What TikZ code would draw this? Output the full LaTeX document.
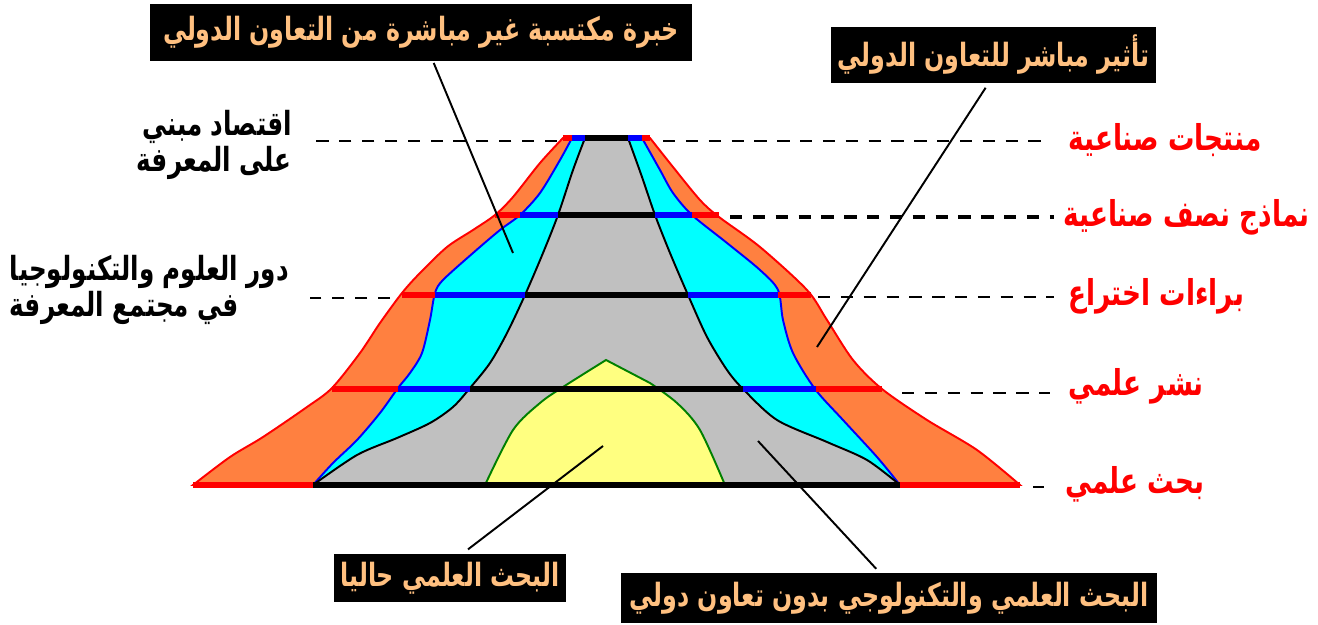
\documentclass[tikz,border=0pt]{standalone}
\usepackage{graphicx}
\usepackage{fontspec}
\newfontfamily\arabicfont[Script=Arabic]{DejaVu Sans}
\TeXXeTstate=1
\definecolor{peach}{RGB}{255,192,128}
\definecolor{orng}{RGB}{255,128,64}
\definecolor{aqua}{RGB}{0,255,255}
\definecolor{lgray}{RGB}{192,192,192}
\definecolor{lyellow}{RGB}{255,255,128}
\definecolor{dgreen}{RGB}{0,128,0}
\newcommand\tallar[1]{\scalebox{1}[1.35]{\beginR #1\endR}}

\begin{document}
\begin{tikzpicture}[x=0.02cm,y=-0.02cm,
  rim/.style={line width=1.1pt},
  lvl/.style={line width=3.4pt},
  leader/.style={line width=1.1pt},
  guide/.style={dash pattern=on 7pt off 6pt,line width=1.1pt},
  tag/.style={fill=black,text=peach,inner sep=0pt,font=\arabicfont\bfseries\fontsize{13.5}{16}\selectfont},
  stage/.style={text=red,anchor=west,inner sep=0pt,font=\arabicfont\bfseries\fontsize{15}{18}\selectfont},
  sidenote/.style={anchor=east,inner sep=0pt,font=\arabicfont\bfseries\fontsize{14}{20}\selectfont}]
\useasboundingbox (0,0) rectangle (1318,625);
% layers of the pyramid
\filldraw[fill=orng,draw=red,rim] plot[smooth] coordinates {(563,138) (540,163) (513,197) (495,215) (473,230) (447,247) (420,273) (402,293) (380,323) (360,353) (332,388) (307,407) (263,437) (230,457) (193,485)}
  -- plot[smooth] coordinates {(1020,485) (977,450) (927,420) (882,389) (853,360) (827,320) (807,290) (760,247) (719,217) (700,200) (673,167) (650,138)} -- cycle;
\filldraw[fill=aqua,draw=blue,rim] plot[smooth] coordinates {(572,138) (560,160) (540,193) (520,215) (500,230) (473,253) (443,280) (435,293) (430,320) (422,353) (410,373) (398,388) (380,413) (357,440) (333,463) (313,485)}
  -- plot[smooth] coordinates {(900,485) (877,457) (843,420) (815,389) (793,353) (783,320) (778,290) (760,270) (727,243) (692,215) (673,193) (660,170) (642,138)} -- cycle;
\filldraw[fill=lgray,draw=black,rim] plot[smooth] coordinates {(585,138) (573,170) (558,215) (543,253) (525,295) (507,333) (490,363) (470,388) (453,407) (430,423) (397,438) (357,455) (313,485)}
  -- plot[smooth] coordinates {(900,485) (867,460) (827,442) (777,420) (743,389) (727,370) (707,337) (688,295) (670,253) (655,215) (642,177) (628,138)} -- cycle;
\filldraw[fill=lyellow,draw=dgreen,rim] plot[smooth] coordinates {(485,485) (513,430) (540,403) (563,387) (606,360)}
  -- plot[smooth] coordinates {(650,383) (677,403) (700,430) (725,485)} -- cycle;
% levels
\draw[lvl,red] (563,138)--(572,138);\draw[lvl,blue] (572,138)--(585,138);\draw[lvl] (585,138)--(628,138);\draw[lvl,blue] (628,138)--(642,138);\draw[lvl,red] (642,138)--(650,138);
\draw[lvl,red] (495,215)--(520,215);\draw[lvl,blue] (520,215)--(558,215);\draw[lvl] (558,215)--(655,215);\draw[lvl,blue] (655,215)--(692,215);\draw[lvl,red] (692,215)--(719,215);
\draw[lvl,red] (402,295)--(435,295);\draw[lvl,blue] (435,295)--(525,295);\draw[lvl] (525,295)--(688,295);\draw[lvl,blue] (688,295)--(778,295);\draw[lvl,red] (778,295)--(811,295);
\draw[lvl,red] (332,389)--(398,389);\draw[lvl,blue] (398,389)--(470,389);\draw[lvl] (470,389)--(743,389);\draw[lvl,blue] (743,389)--(816,389);\draw[lvl,red] (816,389)--(882,389);
\draw[lvl,red] (193,485)--(313,485);\draw[lvl] (313,485)--(900,485);\draw[lvl,red] (900,485)--(1020,485);
% labels
\node[tag,minimum width=10.84cm,minimum height=1.14cm] (indirect) at (421,32.5) {\tallar{خبرة مكتسبة غير مباشرة من التعاون الدولي}};
\node[tag,minimum width=6.5cm,minimum height=1.12cm] (direct) at (993.5,55) {\tallar{تأثير مباشر للتعاون الدولي}};
\node[tag,minimum width=4.64cm,minimum height=0.96cm] (current) at (450,578) {\tallar{البحث العلمي حاليا}};
\node[tag,minimum width=10.72cm,minimum height=1cm] (isolated) at (889,598) {\tallar{البحث العلمي والتكنولوجي بدون تعاون دولي}};
\node[stage] (products) at (1068,140) {\tallar{منتجات صناعية}};
\node[stage] (prototypes) at (1063,217) {\tallar{نماذج نصف صناعية}};
\node[stage] (patents) at (1068,296) {\tallar{براءات اختراع}};
\node[stage] (papers) at (1068,386) {\tallar{نشر علمي}};
\node[stage] (research) at (1065,484) {\tallar{بحث علمي}};
\node[sidenote,align=right] (economy) at (292,145) {\tallar{اقتصاد مبني}\\\tallar{على المعرفة}};
\node[sidenote,align=left] (role) at (289,290) {\tallar{دور العلوم والتكنولوجيا}\\\tallar{في مجتمع المعرفة}};
% dashed guides
\coordinate (g1) at (663,141);\coordinate (g2) at (730,217);\coordinate (g3) at (818,297);\coordinate (g4) at (902,393);\coordinate (g5) at (1033,487);
\coordinate (h1) at (557,141);\coordinate (h3) at (390,298);
\draw[guide,shorten >=12pt] (g1)--(g1 -| products.west);
\draw[guide,line width=2.3pt,shorten >=5pt] (g2)--(g2 -| prototypes.west);
\draw[guide,shorten >=8pt] (g3)--(g3 -| patents.west);
\draw[guide,shorten >=10pt] (g4)--(g4 -| papers.west);
\draw[guide,shorten >=12pt] (g5)--(g5 -| research.west);
\draw[guide,shorten >=11pt] (h1)--(h1 -| economy.east);
\draw[guide,shorten >=12pt] (h3)--(h3 -| role.east);
% leaders
\coordinate (indirecttip) at (513,253);\coordinate (directtip) at (817,347);\coordinate (currenttip) at (603,446);\coordinate (isolatedtip) at (758,441);
\draw[leader,shorten <=1pt] (indirect)--(indirecttip);
\draw[leader,shorten <=3pt] (direct.260)--(directtip);
\draw[leader,shorten <=4pt] (current.63)--(currenttip);
\draw[leader,shorten <=3pt] (isolated.110)--(isolatedtip);
\end{tikzpicture}
\end{document}
